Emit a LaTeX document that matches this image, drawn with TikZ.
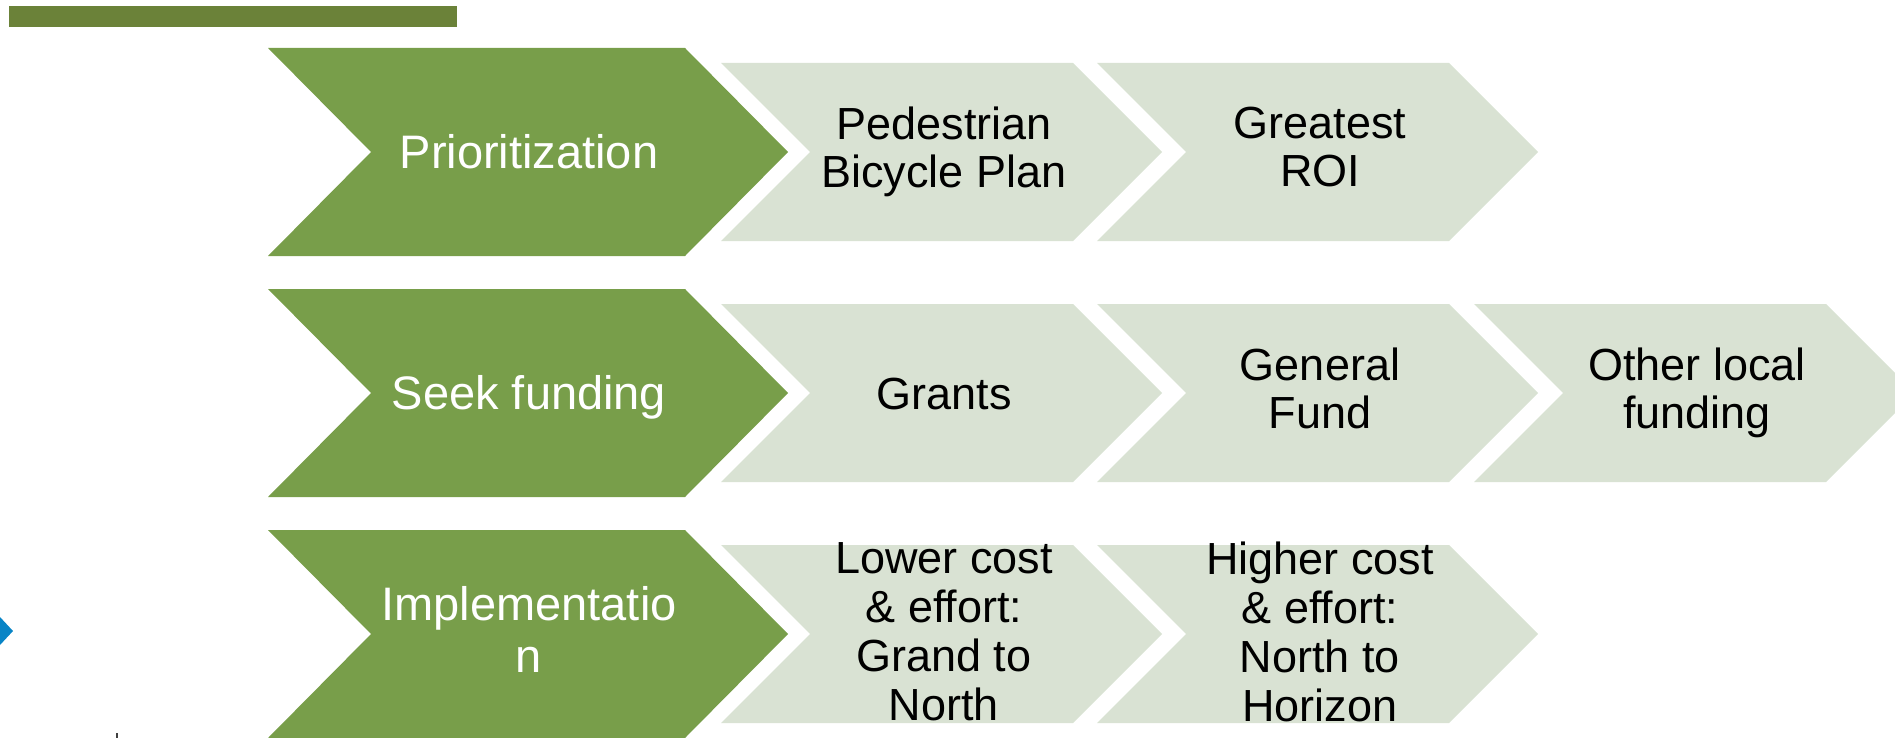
\documentclass[tikz,border=0pt]{standalone}
\usepackage{fontspec}
\setmainfont{Liberation Sans}
\definecolor{barolive}{RGB}{107,130,57}
\definecolor{chevgreen}{RGB}{120,158,74}
\definecolor{chevlight}{RGB}{217,226,211}
\definecolor{markblue}{RGB}{8,132,198}
\tikzset{
  greenchev/.style={fill=chevgreen},
  lightchev/.style={fill=chevlight},
  greentext/.style={text=white, font=\fontsize{47}{52}\selectfont, align=center, inner sep=0pt,
    execute at begin node={\rule{0pt}{43pt}}, execute at end node={\rule[-10pt]{0pt}{10pt}}},
  lighttext/.style={text=black, font=\fontsize{45}{48}\selectfont, align=center, inner sep=0pt,
    execute at begin node={\rule{0pt}{42pt}}, execute at end node={\rule[-10pt]{0pt}{10pt}}},
}
\begin{document}
\begin{tikzpicture}[x=1pt,y=-1pt]
\useasboundingbox (0,0) rectangle (1895,738);
\clip (0,0) rectangle (1895,738);
% top bar
\fill[barolive] (9,6) rectangle (457,27);
% blue mark at left edge
\fill[markblue] (0,617) -- (13,631) -- (0,645) -- cycle;
% tiny mark at bottom
\fill[black!75] (116,733) rectangle (118,738);
% green chevrons
\foreach \c in {152,393,634}{
  \fill[greenchev] (268,\c-104) -- (685,\c-104) -- (788,\c) -- (685,\c+104) -- (268,\c+104) -- (371,\c) -- cycle;
}
% light chevrons
\foreach \c/\L in {152/721,152/1097,393/721,393/1097,393/1474,634/721,634/1097}{
  \fill[lightchev] (\L,\c-89) -- (\L+352,\c-89) -- (\L+441,\c) -- (\L+352,\c+89) -- (\L,\c+89) -- (\L+89,\c) -- cycle;
}
% texts
\node[greentext] (prio) at (529,152) {Prioritization};
\node[greentext] (seek) at (529,393) {Seek funding};
\node[greentext] (impl) at (529,634) {Implementatio\\n};
\node[lighttext] (ped) at (944,152) {Pedestrian\\Bicycle Plan};
\node[lighttext] (roi) at (1320,152) {Greatest\\ROI};
\node[lighttext] (grants) at (944,393) {Grants};
\node[lighttext] (general) at (1320,393) {General\\Fund};
\node[lighttext] (other) at (1697,393) {Other local\\funding};
\begin{scope}
\clip (0,0) rectangle (1895,723);
\node[lighttext, font=\fontsize{45}{49}\selectfont] (lower) at (944,637) {Lower cost\\\& effort:\\Grand to\\North};
\node[lighttext, font=\fontsize{45}{49}\selectfont] (higher) at (1320,637) {Higher cost\\\& effort:\\North to\\Horizon};
\end{scope}
\end{tikzpicture}
\end{document}
